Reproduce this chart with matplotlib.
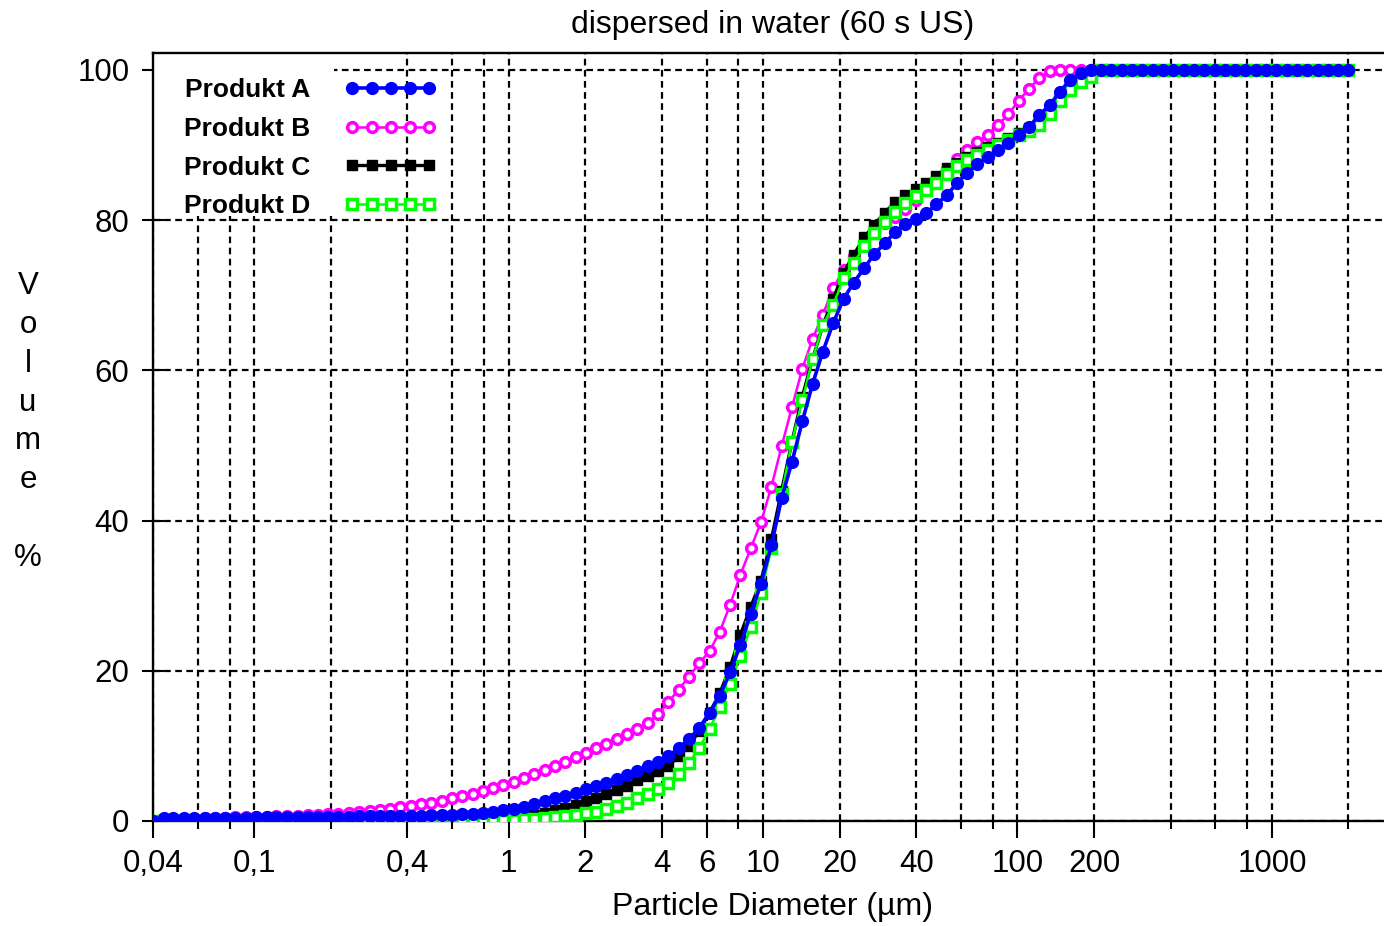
import matplotlib
matplotlib.use('Agg')
import matplotlib.pyplot as plt
from matplotlib.patches import Rectangle
from matplotlib.ticker import FixedLocator, FixedFormatter, NullLocator

# ---------------- data ----------------
sizes = [0.040, 0.044, 0.048, 0.053, 0.058, 0.064, 0.070, 0.077, 0.084, 0.093,
         0.102, 0.112, 0.122, 0.134, 0.148, 0.162, 0.178, 0.195, 0.214, 0.235,
         0.258, 0.284, 0.311, 0.342, 0.375, 0.412, 0.452, 0.496, 0.545, 0.598,
         0.657, 0.721, 0.791, 0.869, 0.954, 1.047, 1.149, 1.261, 1.385, 1.520,
         1.669, 1.832, 2.011, 2.208, 2.423, 2.660, 2.920, 3.206, 3.519, 3.863,
         4.240, 4.655, 5.110, 5.610, 6.158, 6.760, 7.421, 8.147, 8.943, 9.817,
         10.78, 11.83, 12.99, 14.26, 15.65, 17.18, 18.86, 20.71, 22.73, 24.95,
         27.39, 30.07, 33.01, 36.24, 39.78, 43.67, 47.94, 52.62, 57.77, 63.41,
         69.61, 76.42, 83.89, 92.09, 101.1, 111.0, 121.8, 133.7, 146.8, 161.2,
         176.9, 194.2, 213.2, 234.1, 256.9, 282.1, 309.6, 339.9, 373.1, 409.6,
         449.7, 493.6, 541.9, 594.9, 653.0, 716.8, 786.9, 863.9, 948.3, 1041,
         1143, 1255, 1377, 1512, 1660, 1822, 2000]

produkt_a = [0.00, 0.35, 0.38, 0.40, 0.40, 0.42, 0.43, 0.44, 0.45, 0.46,
             0.47, 0.48, 0.49, 0.50, 0.51, 0.52, 0.53, 0.55, 0.56, 0.58,
             0.60, 0.62, 0.64, 0.66, 0.68, 0.70, 0.72, 0.75, 0.78, 0.82,
             0.87, 0.95, 1.05, 1.20, 1.40, 1.60, 1.90, 2.20, 2.60, 3.00,
             3.35, 3.75, 4.20, 4.65, 5.10, 5.60, 6.10, 6.70, 7.30, 7.90,
             8.60, 9.70, 10.90, 12.40, 14.40, 16.70, 19.80, 23.50, 27.60, 31.60,
             36.70, 43.00, 47.80, 53.20, 58.20, 62.50, 66.30, 69.50, 71.70, 73.60,
             75.50, 76.90, 78.40, 79.50, 80.10, 80.90, 82.10, 83.30, 84.90, 86.30,
             87.50, 88.40, 89.40, 90.30, 91.40, 92.40, 94.00, 95.30, 97.10, 98.70,
             99.60, 100.0, 100.0, 100.0, 100.0, 100.0, 100.0, 100.0, 100.0, 100.0,
             100.0, 100.0, 100.0, 100.0, 100.0, 100.0, 100.0, 100.0, 100.0, 100.0,
             100.0, 100.0, 100.0, 100.0, 100.0, 100.0, 100.0]

produkt_b = [0.00, 0.25, 0.28, 0.30, 0.33, 0.36, 0.40, 0.43, 0.47, 0.50,
             0.54, 0.58, 0.62, 0.67, 0.72, 0.78, 0.84, 0.90, 0.98, 1.08,
             1.20, 1.33, 1.47, 1.63, 1.80, 2.00, 2.20, 2.45, 2.70, 3.00,
             3.30, 3.65, 4.00, 4.40, 4.80, 5.20, 5.70, 6.20, 6.75, 7.30,
             7.90, 8.50, 9.10, 9.70, 10.30, 10.90, 11.60, 12.30, 13.10, 14.20,
             15.80, 17.50, 19.20, 21.00, 22.60, 25.20, 28.80, 32.80, 36.30, 39.80,
             44.50, 49.90, 55.10, 60.20, 64.20, 67.40, 71.00, 73.30, 75.20, 77.00,
             78.60, 79.60, 80.40, 81.50, 82.70, 84.00, 85.40, 86.80, 88.20, 89.30,
             90.40, 91.40, 92.70, 94.10, 95.90, 97.50, 98.90, 99.80, 100.0, 100.0,
             100.0, 100.0, 100.0, 100.0, 100.0, 100.0, 100.0, 100.0, 100.0, 100.0,
             100.0, 100.0, 100.0, 100.0, 100.0, 100.0, 100.0, 100.0, 100.0, 100.0,
             100.0, 100.0, 100.0, 100.0, 100.0, 100.0, 100.0]

produkt_c = [0.00, 0.00, 0.00, 0.00, 0.00, 0.00, 0.00, 0.00, 0.00, 0.00,
             0.00, 0.00, 0.00, 0.00, 0.00, 0.00, 0.00, 0.00, 0.00, 0.00,
             0.00, 0.00, 0.00, 0.00, 0.00, 0.00, 0.00, 0.00, 0.00, 0.00,
             0.02, 0.04, 0.07, 0.12, 0.20, 0.30, 0.50, 0.75, 1.05, 1.40,
             1.75, 2.15, 2.60, 3.05, 3.60, 4.10, 4.70, 5.40, 6.00, 6.60,
             7.30, 8.60, 10.00, 12.00, 14.40, 17.00, 20.50, 24.80, 28.50, 32.00,
             37.50, 44.00, 50.50, 56.50, 61.50, 66.00, 69.50, 73.00, 75.40, 77.70,
             79.40, 81.00, 82.40, 83.40, 84.10, 84.90, 85.90, 86.90, 87.60, 88.40,
             89.10, 89.70, 90.30, 91.00, 91.60, 92.30, 93.20, 94.60, 96.30, 97.70,
             98.80, 99.30, 100.0, 100.0, 100.0, 100.0, 100.0, 100.0, 100.0, 100.0,
             100.0, 100.0, 100.0, 100.0, 100.0, 100.0, 100.0, 100.0, 100.0, 100.0,
             100.0, 100.0, 100.0, 100.0, 100.0, 100.0, 100.0]

produkt_d = [0.00, 0.00, 0.00, 0.00, 0.00, 0.00, 0.00, 0.00, 0.00, 0.00,
             0.00, 0.00, 0.00, 0.00, 0.00, 0.00, 0.00, 0.00, 0.00, 0.00,
             0.00, 0.00, 0.00, 0.00, 0.00, 0.00, 0.00, 0.00, 0.00, 0.00,
             0.00, 0.00, 0.00, 0.05, 0.10, 0.15, 0.20, 0.30, 0.40, 0.50,
             0.65, 0.80, 1.00, 1.25, 1.55, 1.95, 2.40, 3.00, 3.60, 4.30,
             5.10, 6.20, 7.70, 9.70, 12.20, 15.20, 18.30, 22.00, 25.80, 30.40,
             36.30, 43.50, 50.50, 56.00, 61.50, 66.00, 68.70, 72.30, 74.30, 76.50,
             78.30, 79.70, 81.10, 82.30, 83.20, 84.00, 85.00, 86.20, 87.20, 88.00,
             88.70, 89.40, 90.00, 90.70, 91.30, 91.90, 92.70, 94.20, 95.90, 97.30,
             98.40, 99.00, 100.0, 100.0, 100.0, 100.0, 100.0, 100.0, 100.0, 100.0,
             100.0, 100.0, 100.0, 100.0, 100.0, 100.0, 100.0, 100.0, 100.0, 100.0,
             100.0, 100.0, 100.0, 100.0, 100.0, 100.0, 100.0]

labels = ['Produkt A', 'Produkt B', 'Produkt C', 'Produkt D']
xtick_major = [0.04, 0.1, 0.4, 1, 2, 4, 6, 10, 20, 40, 100, 200, 1000]
xtick_labels = ['0,04', '0,1', '0,4', '1', '2', '4', '6', '10', '20', '40',
                '100', '200', '1000']
xtick_minor = [0.06, 0.08, 0.2, 0.6, 0.8, 8, 60, 80, 400, 600, 800, 2000]
yticks = [0, 20, 40, 60, 80, 100]
ytick_labels = ['0', '20', '40', '60', '80', '100']
title = 'dispersed in water (60 s US)'
xlabel = 'Particle Diameter (µm)'
ylabel = 'Volume %'

# ---------------- figure ----------------
txtfont = ['Liberation Sans', 'DejaVu Sans']
FS = 22.5
W, H = 1384, 926
fig = plt.figure(figsize=(W / 100, H / 100), dpi=100)
fig.patch.set_facecolor('white')
ax = fig.add_axes([153 / W, 1 - 821 / H, 1231 / W, 768 / H])
ax.set_xscale('log')
ax.set_xlim(0.04, 2758)
ax.set_ylim(0, 102.26)

ax.xaxis.set_major_locator(FixedLocator(xtick_major))
ax.xaxis.set_major_formatter(FixedFormatter(xtick_labels))
ax.xaxis.set_minor_locator(FixedLocator(xtick_minor))
ax.xaxis.set_minor_formatter(FixedFormatter([''] * len(xtick_minor)))
ax.yaxis.set_major_locator(FixedLocator(yticks))
ax.yaxis.set_major_formatter(FixedFormatter(ytick_labels))
ax.yaxis.set_minor_locator(NullLocator())

ax.set_axisbelow(True)
dash = (0, (3.0, 2.0))
ax.grid(which='both', axis='x', color='black', linestyle=dash, linewidth=1.6)
ax.grid(which='major', axis='y', color='black', linestyle=dash, linewidth=1.6)

ax.tick_params(axis='x', which='major', direction='out', length=12, width=1.5,
               pad=8, labelsize=FS, color='black')
ax.tick_params(axis='x', which='minor', direction='out', length=6, width=1.5)
ax.tick_params(axis='y', which='major', direction='inout', length=16, width=1.5,
               pad=9, labelsize=FS)
for lbl in ax.get_xticklabels() + ax.get_yticklabels():
    lbl.set_family(txtfont)

for side in ('left', 'bottom', 'top'):
    ax.spines[side].set_linewidth(1.7)
    ax.spines[side].set_color('black')
ax.spines['right'].set_visible(False)

# white legend background box (covers the grid)
ax.add_patch(Rectangle((0.04, 80.6), 0.205 - 0.04, 102.26 - 80.6,
                       facecolor='white', edgecolor='none', zorder=1))

lb, = ax.plot(sizes, produkt_b, color='#ff00ff', lw=1.8, marker='o', ms=7,
              mfc='white', mec='#ff00ff', mew=2.5, zorder=3)
lc, = ax.plot(sizes, produkt_c, color='black', lw=2.4, marker='s', ms=7,
              mfc='black', mec='black', zorder=4)
ld, = ax.plot(sizes, produkt_d, color='#00ff00', lw=1.8, marker='s', ms=7,
              mfc='white', mec='#00ff00', mew=2.5, zorder=5)
la, = ax.plot(sizes, produkt_a, color='#0000ff', lw=2.6, marker='o', ms=8.5,
              mfc='#0000ff', mec='#0000ff', zorder=6)

leg = ax.legend([la, lb, lc, ld], labels, loc='upper left',
                bbox_to_anchor=(184 / W, 1 - 78 / H), bbox_transform=fig.transFigure,
                frameon=False, markerfirst=False, numpoints=5, handlelength=3.5,
                handletextpad=1.3, labelspacing=0.56, borderpad=0, borderaxespad=0,
                prop={'family': 'Liberation Sans', 'weight': 'bold', 'size': 19})

fig.text(773 / W, 1 - 25 / H, title, ha='center', va='center', fontsize=FS + 0.5,
         family=txtfont)
fig.text(773 / W, 1 - 907 / H, xlabel, ha='center', va='center', fontsize=FS + 0.5,
         family=txtfont)
fig.text(28 / W, 1 - 422 / H, '\n'.join(['V', 'o', 'l', 'u', 'm', 'e', '', '%']),
         ha='center', va='center', multialignment='center', fontsize=FS,
         family=txtfont, linespacing=1.38)

fig.savefig('out.png', dpi=100)
